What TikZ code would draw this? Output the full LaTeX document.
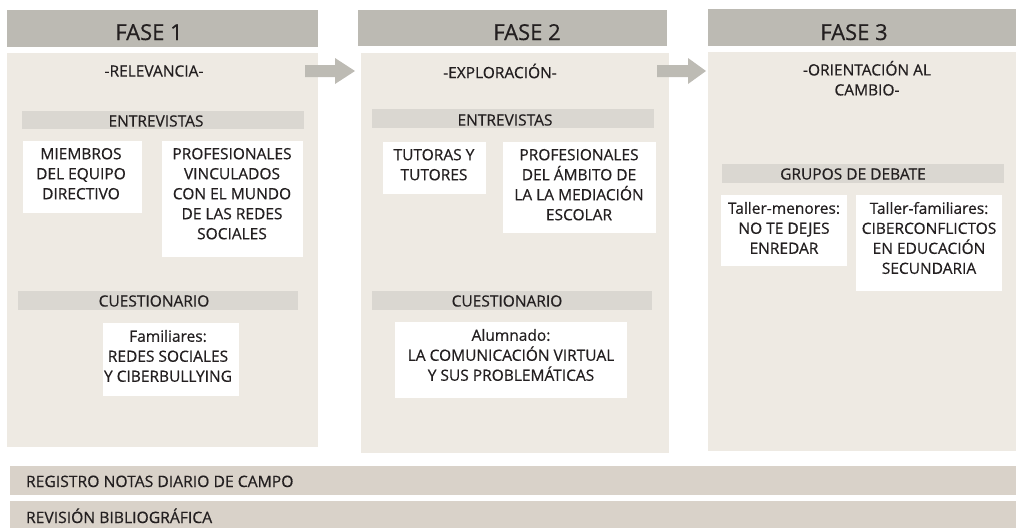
\documentclass[tikz,border=0pt]{standalone}
\usepackage{fontspec}
\setmainfont[FakeBold=0.5]{Open Sans}
\definecolor{hdr}{HTML}{BCBAB3}
\definecolor{bodyc}{HTML}{EEEAE3}
\definecolor{subbar}{HTML}{DAD7D1}
\definecolor{botbar}{HTML}{D9D2C9}
\definecolor{arrowc}{HTML}{BDBBB4}
\definecolor{txt}{HTML}{231F20}
\begin{document}
\begin{tikzpicture}[x=1pt,y=-1pt,
  every node/.style={inner sep=0pt,outer sep=0pt,text=txt},
  hdrbox/.style={fill=hdr,draw=none},
  bodybox/.style={fill=bodyc,draw=none},
  subbox/.style={fill=subbar,draw=none},
  whitebox/.style={fill=white,draw=none},
  botbox/.style={fill=botbar,draw=none},
  hdrtext/.style={font=\fontsize{22}{26}\selectfont,anchor=base},
  lbl/.style={font=\fontsize{15.5}{20}\selectfont,align=center},
  bottext/.style={font=\fontsize{15.7}{20}\selectfont,anchor=base west},
  phasearrow/.style={fill=arrowc,draw=none}
]
\useasboundingbox (0,0) rectangle (1016,528);
% Phase 1
\fill[hdrbox] (7,10) rectangle (318,47);
\node[hdrtext] (h1) at (149,40) {FASE 1};
\fill[bodybox] (7,53) rectangle (318,447);
\node[lbl] (t1) at (154,71) {-RELEVANCIA-};
\fill[subbox] (22,111) rectangle (304,129);
\node[lbl] (e1) at (156,121) {ENTREVISTAS};
\fill[whitebox] (23,141) rectangle (142,213);
\node[lbl,anchor=north] (m1) at (81,148) {MIEMBROS\\DEL EQUIPO\\DIRECTIVO};
\fill[whitebox] (162,141) rectangle (303,257);
\node[lbl,anchor=north] (p1) at (232,148) {PROFESIONALES\\VINCULADOS\\CON EL MUNDO\\DE LAS REDES\\SOCIALES};
\fill[subbox] (18,291) rectangle (298,310);
\node[lbl] (c1) at (154,301) {CUESTIONARIO};
\fill[whitebox] (103,323) rectangle (239,396);
\node[lbl,anchor=north] (f1) at (168,330) {Familiares:\\REDES SOCIALES\\Y CIBERBULLYING};
% Phase 2
\fill[hdrbox] (358,10) rectangle (667,46);
\node[hdrtext] (h2) at (527,40) {FASE 2};
\fill[bodybox] (361,53) rectangle (669,453);
\node[lbl] (t2) at (500,71) {-EXPLORACIÓN-};
\fill[subbox] (372,109) rectangle (654,128);
\node[lbl] (e2) at (505,120) {ENTREVISTAS};
\fill[whitebox] (383,142) rectangle (486,194);
\node[lbl,anchor=north] (tu2) at (434,149) {TUTORAS Y\\TUTORES};
\fill[whitebox] (503,142) rectangle (656,233);
\node[lbl,anchor=north] (p2) at (579,149) {PROFESIONALES\\DEL ÁMBITO DE\\LA LA MEDIACIÓN\\ESCOLAR};
\fill[subbox] (372,291) rectangle (652,310);
\node[lbl] (c2) at (507,301) {CUESTIONARIO};
\fill[whitebox] (395,322) rectangle (627,398);
\node[lbl,anchor=north] (a2) at (511,329) {Alumnado:\\LA COMUNICACIÓN VIRTUAL\\Y SUS PROBLEMÁTICAS};
% Phase 3
\fill[hdrbox] (708,9) rectangle (1016,46);
\node[hdrtext] (h3) at (854,40) {FASE 3};
\fill[bodybox] (708,52) rectangle (1016,451);
\node[lbl,anchor=north] (t3) at (867,61) {-ORIENTACIÓN AL\\CAMBIO-};
\fill[subbox] (722,164) rectangle (1004,183);
\node[lbl] (g3) at (853,174) {GRUPOS DE DEBATE};
\fill[whitebox] (721,195) rectangle (847,266);
\node[lbl,anchor=north] (tm3) at (784,202) {Taller-menores:\\NO TE DEJES\\ENREDAR};
\fill[whitebox] (856,195) rectangle (1002,291);
\node[lbl,anchor=north] (tf3) at (929,202) {Taller-familiares:\\CIBERCONFLICTOS\\EN EDUCACIÓN\\SECUNDARIA};
% arrows
\fill[phasearrow] (305,65) -- (335,65) -- (335,58) -- (355,71) -- (335,84) -- (335,77) -- (305,77) -- cycle;
\fill[phasearrow] (657,65) -- (688,65) -- (688,58) -- (706,71) -- (688,84) -- (688,77) -- (657,77) -- cycle;
% bottom bars
\fill[botbox] (10,466) rectangle (1016,495);
\node[bottext] (r) at (26,487) {REGISTRO NOTAS DIARIO DE CAMPO};
\fill[botbox] (10,501) rectangle (1016,528);
\node[bottext] (rb) at (26,523) {REVISIÓN BIBLIOGRÁFICA};
\end{tikzpicture}
\end{document}
